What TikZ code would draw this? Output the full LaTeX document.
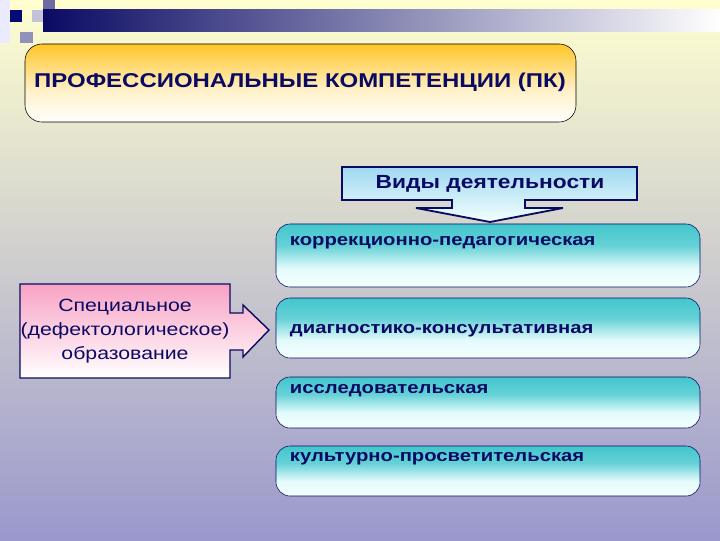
\documentclass[tikz,border=0pt]{standalone}
\usepackage{fontspec}
\setmainfont[FakeStretch=1.2]{Liberation Sans}
\usetikzlibrary{positioning}
\definecolor{navy}{RGB}{10,10,100}
\definecolor{bgtop}{RGB}{255,255,208}
\definecolor{bgmid}{RGB}{206,204,196}
\definecolor{bgbot}{RGB}{154,152,204}
\definecolor{kindteal}{RGB}{66,198,204}
\definecolor{iceblue}{RGB}{242,255,255}
\definecolor{pinktop}{RGB}{248,162,196}
\definecolor{titlegold}{RGB}{255,198,40}
\definecolor{skyblue}{RGB}{160,216,240}
\pgfdeclareverticalshading{kindshade}{100bp}{color(0bp)=(iceblue); color(25bp)=(iceblue); color(40bp)=(iceblue!92!kindteal); color(58bp)=(kindteal!80!iceblue); color(75bp)=(kindteal); color(100bp)=(kindteal)}
\pgfdeclareverticalshading{titleshade}{100bp}{color(0bp)=(white); color(25bp)=(white); color(45bp)=(titlegold!25!white); color(75bp)=(titlegold); color(100bp)=(titlegold)}
\tikzstyle{kind} = [draw=navy, rounded corners=10, shading=kindshade]
\tikzstyle{kindtext} = [anchor=west, text=navy, font=\bfseries\fontsize{12}{15}\selectfont]

\begin{document}
\begin{tikzpicture}[x=0.025cm, y=0.025cm]
	%Background
	\path[top color=bgtop, middle color=bgmid, bottom color=bgbot] (0,0) rectangle (720,540);
	\useasboundingbox (0,0) rectangle (720,540);
	%Corner squares and bar
	\fill[blue!8!white] (0,540) rectangle (10,497);
	\fill[navy!60!white] (43,540) rectangle (55,530);
	\fill[navy!25!white] (32,530) rectangle (43,518);
	\fill[navy!45!white] (20,508) rectangle (33,497);
	\fill[left color=navy, right color=white] (43,530) rectangle (720,508);
	\fill[navy!90!blue] (10,530) rectangle (22,518);
	%Title
	\draw[rounded corners=12, shading=titleshade] (25,496) rectangle (576,418);
	\node[text=navy, font=\bfseries\fontsize{14.2}{17}\selectfont] (title) at (300,458) {ПРОФЕССИОНАЛЬНЫЕ КОМПЕТЕНЦИИ (ПК)};
	%Kinds of activity
	\draw[navy, line width=1.3pt, top color=skyblue, bottom color=iceblue]
		(342,373) -- (637,373) -- (637,340) -- (525,340) -- (525,332) -- (563,332) -- (490,318)
		-- (416,332) -- (452,332) -- (452,340) -- (342,340) -- cycle;
	\node[text=navy, font=\bfseries\fontsize{13.5}{16}\selectfont] (vidy) at (490,356) {Виды деятельности};
	%Special education
	\draw[navy, line width=1pt, top color=pinktop, bottom color=white]
		(20,256) -- (230,256) -- (230,227) -- (243,227) -- (243,235) -- (269,210) -- (243,183)
		-- (243,190) -- (230,190) -- (230,162) -- (20,162) -- cycle;
	\node[text=navy, align=center, font=\fontsize{12.6}{17}\selectfont] (educ) at (125,209) {Специальное\\(дефектологическое)\\образование};
	%Boxes
	\draw[kind] (276,316) rectangle (700,253);
	\node[kindtext] (korr) at (285,297) {коррекционно-педагогическая};
	\draw[kind] (276,242) rectangle (700,182);
	\node[kindtext] (diag) at (285,209) {диагностико-консультативная};
	\draw[kind] (276,163) rectangle (700,112);
	\node[kindtext] (issl) at (285,149) {исследовательская};
	\draw[kind] (276,94) rectangle (700,44);
	\node[kindtext] (kult) at (285,81) {культурно-просветительская};

\end{tikzpicture}
\end{document}
